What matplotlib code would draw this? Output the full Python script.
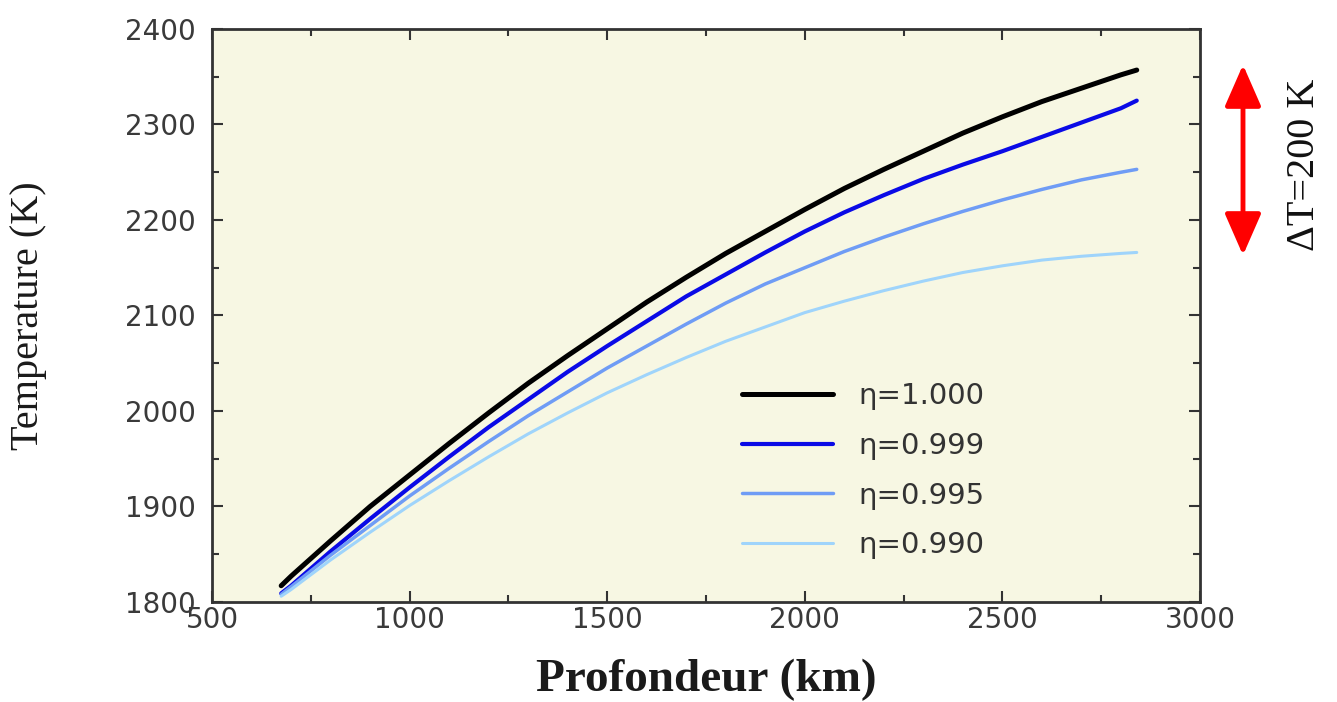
import numpy as np
import matplotlib

matplotlib.use("Agg")
import matplotlib.pyplot as plt
from matplotlib.ticker import MultipleLocator

# ── Data (depth in km, temperature in K) ──
depth = [675, 700, 800, 900, 1000, 1100, 1200, 1300, 1400, 1500, 1600, 1700,
         1800, 1900, 2000, 2100, 2200, 2300, 2400, 2500, 2600, 2700, 2800, 2840]
t_1000 = [1817, 1827, 1864, 1900, 1933, 1966, 1998, 2029, 2058, 2086, 2114, 2140,
          2165, 2188, 2211, 2233, 2253, 2272, 2291, 2308, 2324, 2338, 2352, 2357]
t_0999 = [1809, 1817, 1853, 1887, 1920, 1952, 1983, 2012, 2041, 2068, 2094, 2120,
          2143, 2166, 2188, 2208, 2226, 2243, 2258, 2272, 2287, 2302, 2317, 2325]
t_0995 = [1808, 1816, 1849, 1880, 1911, 1940, 1968, 1995, 2020, 2045, 2068, 2091,
          2113, 2133, 2150, 2167, 2182, 2196, 2209, 2221, 2232, 2242, 2250, 2253]
t_0990 = [1806, 1813, 1844, 1873, 1901, 1927, 1952, 1976, 1998, 2019, 2038, 2056,
          2073, 2088, 2103, 2115, 2126, 2136, 2145, 2152, 2158, 2162, 2165, 2166]

labels = ["\u03b7=1.000", "\u03b7=0.999", "\u03b7=0.995", "\u03b7=0.990"]
colors = ["#000000", "#0a0ae6", "#6f9cf5", "#9fd4fb"]
widths = [3.6, 3.0, 2.5, 2.2]

fig = plt.figure(figsize=(13.37, 7.02), dpi=100, facecolor="white")
ax = fig.add_axes([0.1586, 0.1425, 0.7389, 0.8162])
ax.set_facecolor("#f7f7e3")

for temps, lab, col, lw in zip([t_1000, t_0999, t_0995, t_0990], labels, colors, widths):
    ax.plot(depth, temps, color=col, lw=lw, label=lab,
            solid_capstyle="round", solid_joinstyle="round")

ax.set_xlim(500, 3000)
ax.set_ylim(1800, 2400)
ax.xaxis.set_major_locator(MultipleLocator(500))
ax.xaxis.set_minor_locator(MultipleLocator(250))
ax.yaxis.set_major_locator(MultipleLocator(100))
ax.yaxis.set_minor_locator(MultipleLocator(50))

tick_font = "DejaVu Sans"
ax.tick_params(axis="both", which="both", direction="in", top=True, right=True,
               colors="#333333", width=1.5)
ax.tick_params(axis="both", which="major", length=8, labelsize=20)
ax.tick_params(axis="both", which="minor", length=5)
ax.tick_params(axis="x", which="major", pad=3)
ax.tick_params(axis="y", which="major", pad=12)
for lbl in ax.get_xticklabels() + ax.get_yticklabels():
    lbl.set_fontfamily(tick_font)
    lbl.set_color("#3a3a3a")
for spine in ax.spines.values():
    spine.set_color("#333333")
    spine.set_linewidth(2)

ax.set_xlabel("Profondeur (km)", family="Liberation Serif", fontsize=34,
              fontweight="bold", color="#1a1a1a", labelpad=18)
ax.set_ylabel("Temperature (K)", family="Liberation Serif", fontsize=29,
              color="#1a1a1a")
ax.yaxis.set_label_coords(-0.167, 0.5)

leg = ax.legend(loc="upper left", bbox_to_anchor=(0.51, 0.43), frameon=False,
                prop={"family": tick_font, "size": 21}, handlelength=3.1,
                handletextpad=0.9, labelspacing=0.75)
for txt in leg.get_texts():
    txt.set_color("#333333")

# ΔT = 200 K scale arrow to the right of the axes
fig.patches.append(matplotlib.patches.FancyArrowPatch(
    (1243 / 1337, 1 - 258 / 702), (1243 / 1337, 1 - 62 / 702),
    transform=fig.transFigure, arrowstyle="<|-|>,head_length=1.6,head_width=0.7",
    mutation_scale=16, color="#ff0000", lw=3.5))
fig.text(1305 / 1337, 1 - 165 / 702, "\u0394T=200 K", rotation=90,
         family="Liberation Serif", fontsize=29, ha="center", va="center",
         color="#111111")

fig.savefig("out.png", dpi=100, facecolor=fig.get_facecolor())
